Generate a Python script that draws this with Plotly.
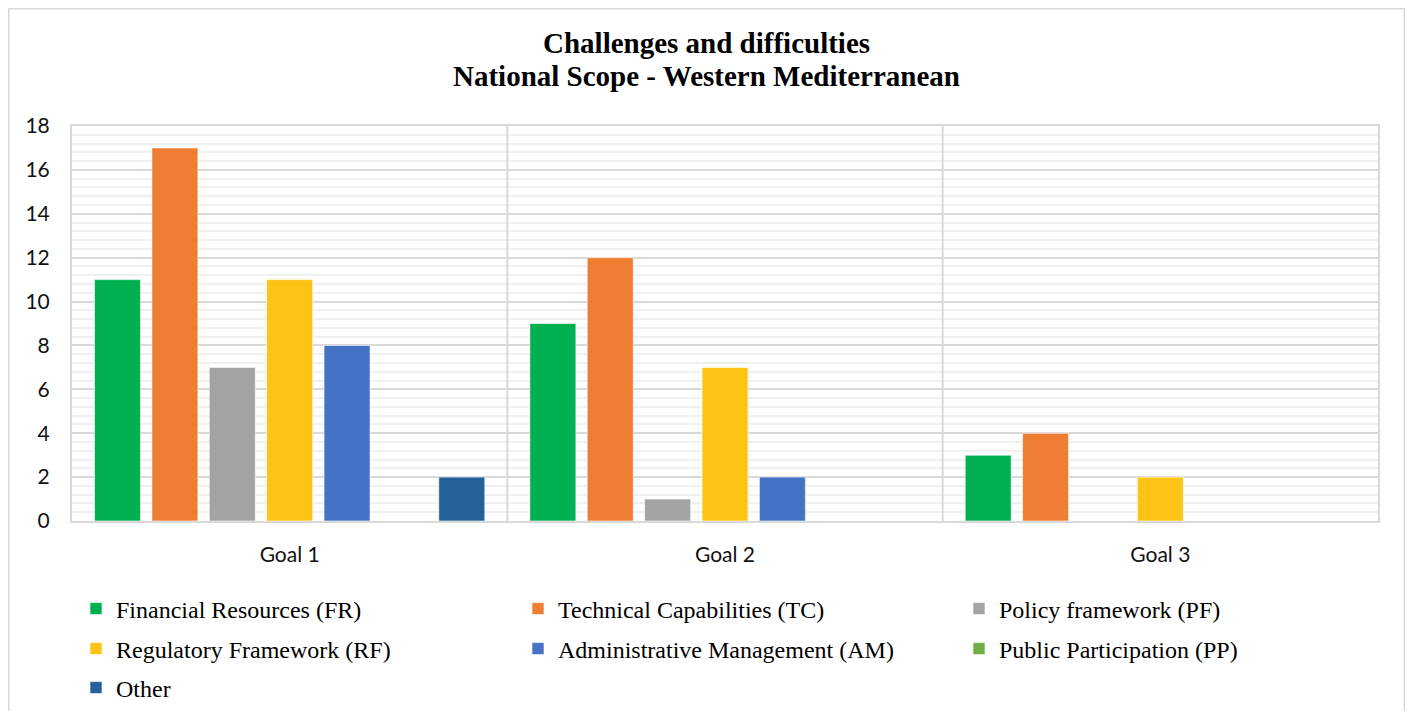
import plotly.graph_objects as go

categories = ["Goal 1", "Goal 2", "Goal 3"]
series_names = [
    "Financial Resources (FR)",
    "Technical Capabilities (TC)",
    "Policy framework (PF)",
    "Regulatory Framework (RF)",
    "Administrative Management (AM)",
    "Public Participation (PP)",
    "Other",
]
fr = [11, 9, 3]
tc = [17, 12, 4]
pf = [7, 1, 0]
rf = [11, 7, 2]
am = [8, 2, 0]
pp = [0, 0, 0]
other = [2, 0, 0]
values = [fr, tc, pf, rf, am, pp, other]
colors = ["#00B050", "#F07E32", "#A3A3A3", "#FDC416", "#4472C4", "#70AD47", "#25609A"]

# figure is placed by the page with an 8px body margin, so size/offsets compensate
W, H = 1397, 703
L, R, T, B = 64, 27, 118, 190
PW, PH = W - L - R, H - T - B


def px(x):  # figure px -> paper x
    return (x - L) / PW


def py(y):  # figure px -> paper y
    return (H - B - y) / PH


# legend grid: 3 columns, row-wise order
col_x = [68, 510, 951]
row_y = [601, 641, 680]

fig = go.Figure()
legend_layout = {}
for i, (name, vals, col) in enumerate(zip(series_names, values, colors)):
    lid = "legend" if i == 0 else f"legend{i + 1}"
    fig.add_trace(go.Bar(
        name=name, x=categories, y=vals, legend=lid, showlegend=True,
        marker=dict(color=col, line=dict(color="rgba(255,255,255,0.6)", width=1)),
    ))
    legend_layout[lid] = dict(
        orientation="h", xanchor="left", yanchor="middle",
        x=px(col_x[i % 3]), y=py(row_y[i // 3]),
        font=dict(family="Liberation Serif", size=24, color="black"),
        itemwidth=30, bgcolor="rgba(0,0,0,0)", visible=True,
    )

fig.update_layout(
    width=W, height=H, showlegend=True,
    paper_bgcolor="white", plot_bgcolor="white",
    margin=dict(l=L, r=R, t=T, b=B, autoexpand=False),
    barmode="group", bargap=0.0774, bargroupgap=0.198,
    font=dict(family="Lato", size=21, color="#111111"),
    annotations=[
        dict(text="<b>Challenges and difficulties</b>", xref="paper", yref="paper",
             x=px(698.5), y=py(34.5), xanchor="center", yanchor="middle", showarrow=False,
             font=dict(family="Liberation Serif", size=29, color="black")),
        dict(text="<b>National Scope - Western Mediterranean</b>", xref="paper", yref="paper",
             x=px(698.5), y=py(68), xanchor="center", yanchor="middle", showarrow=False,
             font=dict(family="Liberation Serif", size=29, color="black")),
    ],
    xaxis=dict(
        showgrid=False, showline=True, linecolor="#D9D9D9", linewidth=2, mirror=True,
        ticks="", ticklabelstandoff=14,
    ),
    yaxis=dict(
        range=[0, 18], dtick=2, showgrid=True, gridcolor="#D9D9D9", gridwidth=1.5,
        showline=True, linecolor="#D9D9D9", linewidth=2, mirror=True,
        zeroline=False, ticks="", ticklabelstandoff=16,
        minor=dict(dtick=0.4, showgrid=True, gridcolor="#F0F0F0", gridwidth=1.5),
    ),
    shapes=[
        dict(type="line", xref="x", yref="paper", x0=0.5, x1=0.5, y0=0, y1=1,
             line=dict(color="#D9D9D9", width=2)),
        dict(type="line", xref="x", yref="paper", x0=1.5, x1=1.5, y0=0, y1=1,
             line=dict(color="#D9D9D9", width=2)),
        dict(type="rect", xref="paper", yref="paper",
             x0=px(0.5), x1=px(W - 0.5), y0=py(H + 20), y1=py(0.5),
             line=dict(color="#D9D9D9", width=2), fillcolor="rgba(0,0,0,0)", layer="below"),
    ],
    **legend_layout,
)

fig.write_html("out.html")
